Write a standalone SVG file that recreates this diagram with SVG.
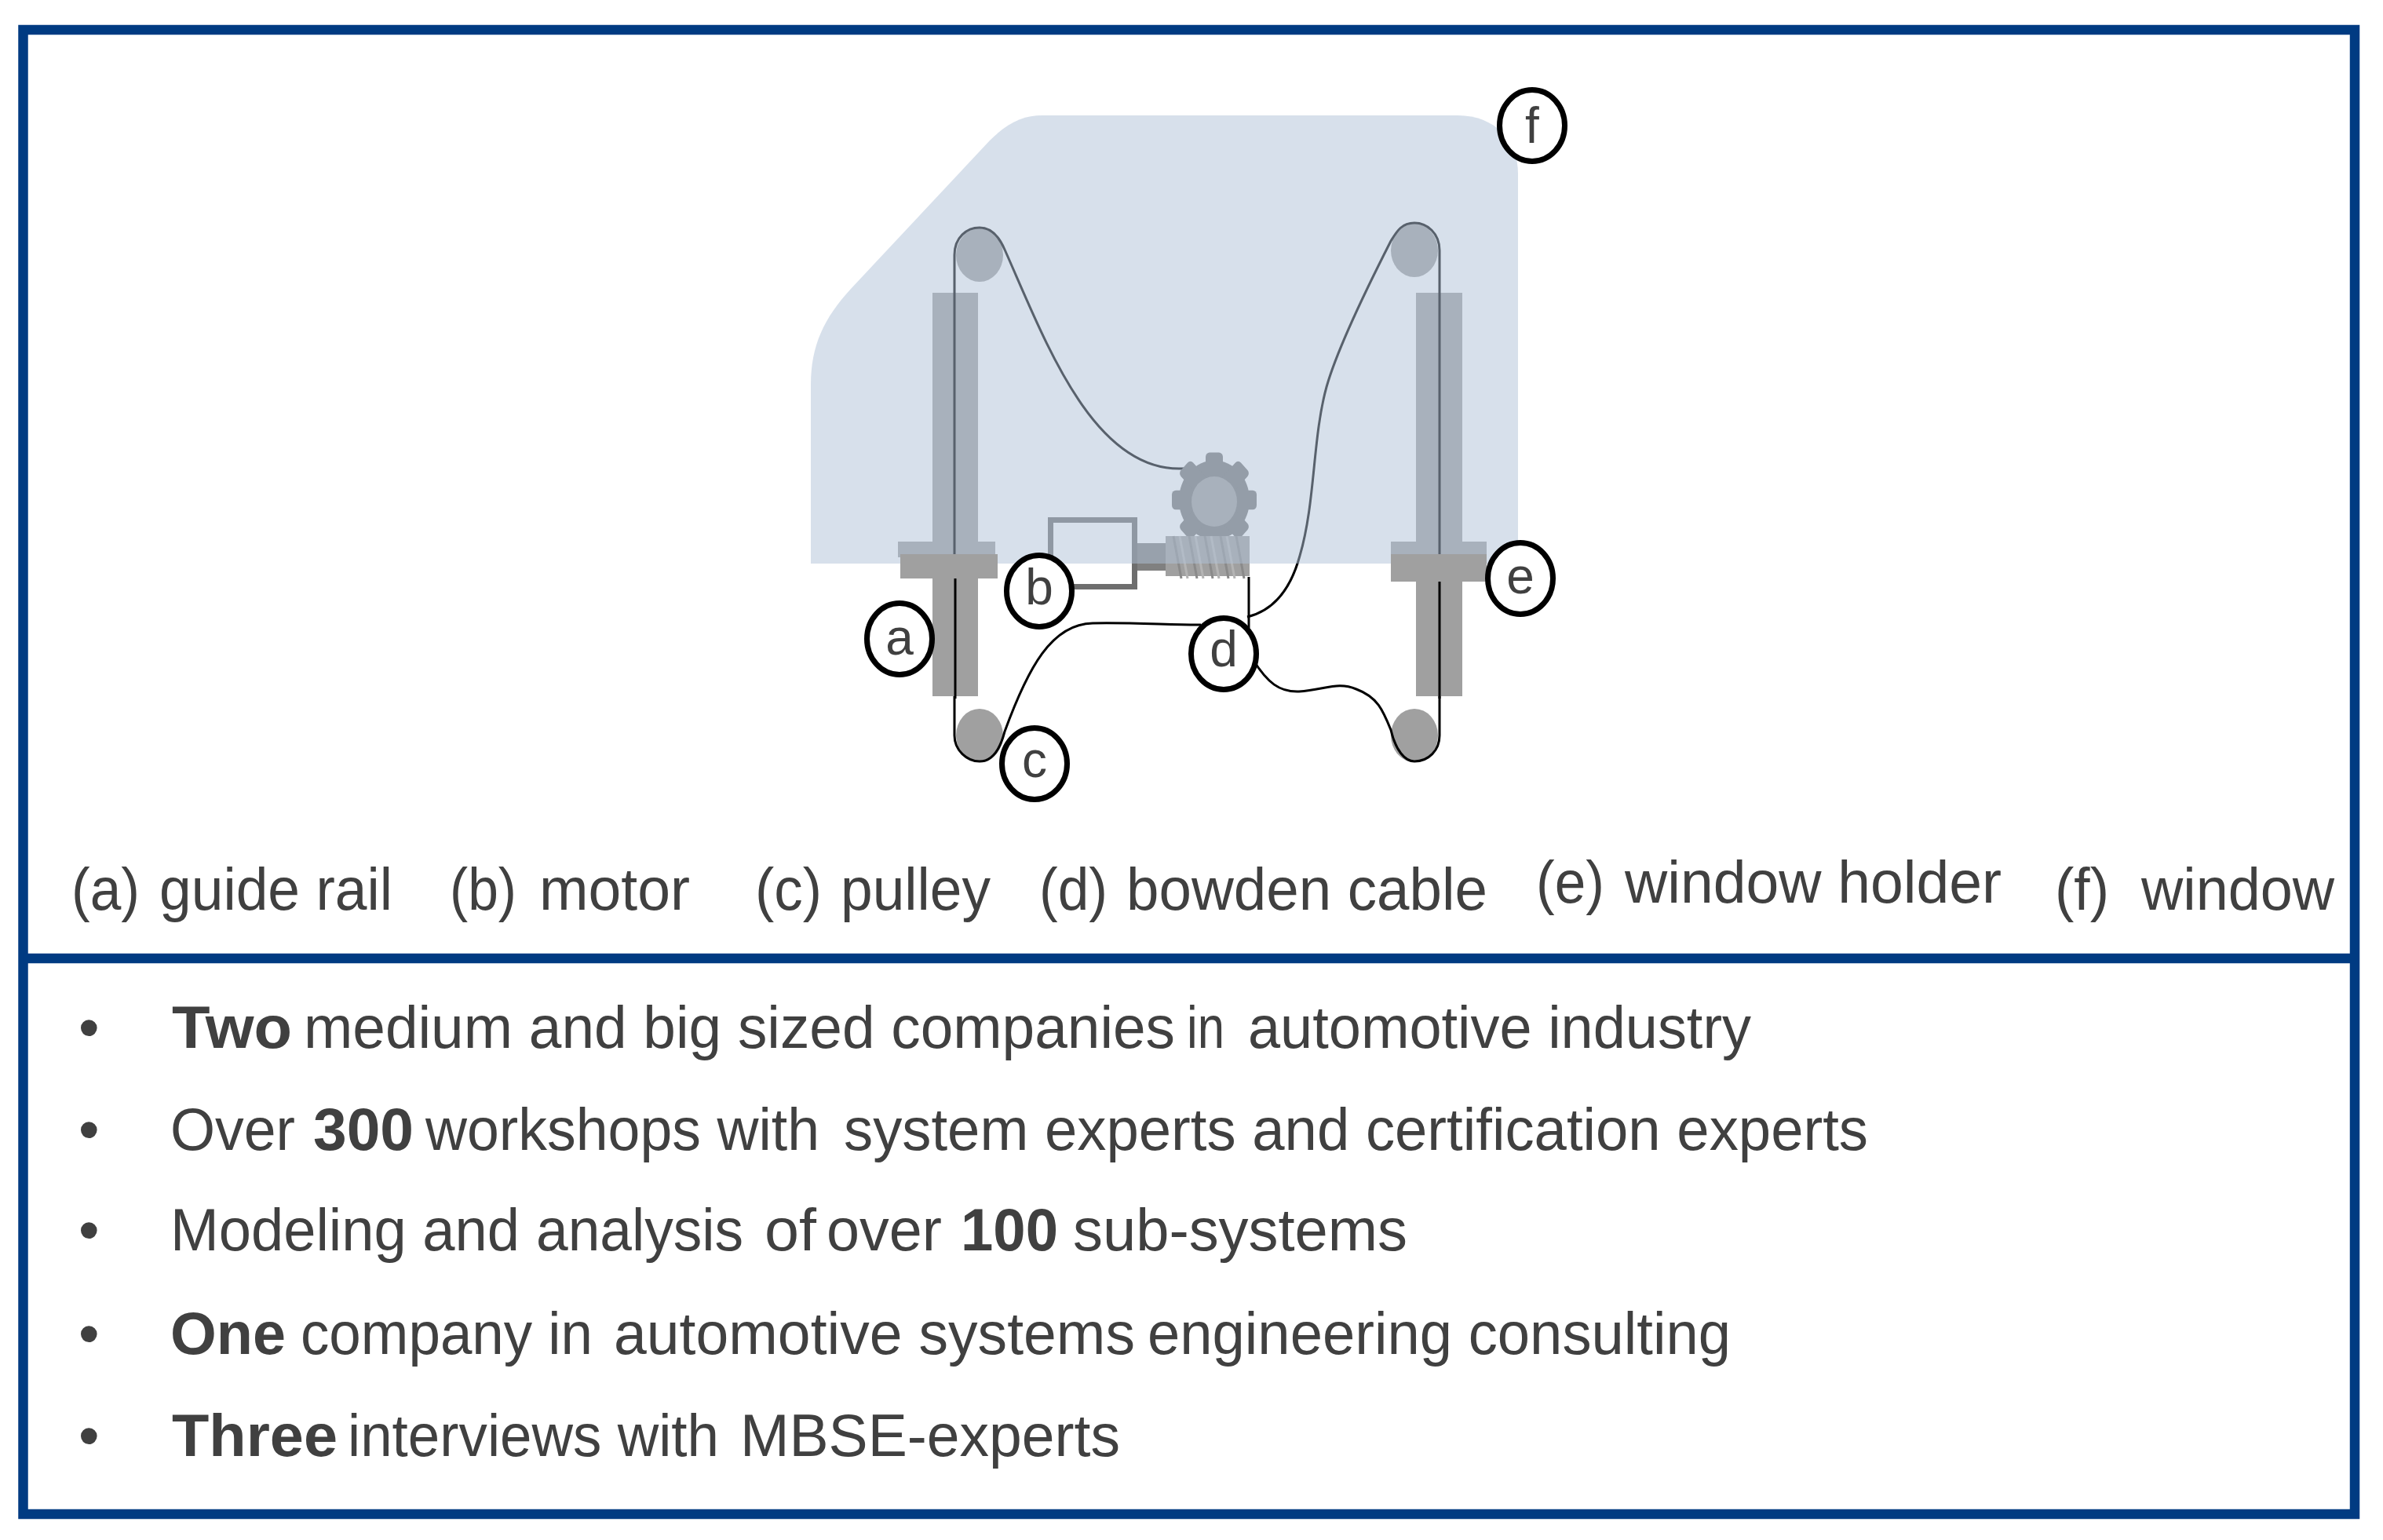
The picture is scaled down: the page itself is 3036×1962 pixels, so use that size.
<svg xmlns="http://www.w3.org/2000/svg" width="3036" height="1962" viewBox="0 0 3036 1962">
<style>
text{font-family:"Liberation Sans",Arial,sans-serif;fill:#404040;font-size:76px}
.b{font-weight:700}
.lab{font-size:64px;text-anchor:middle}
.ring{fill:#fff;stroke:#000;stroke-width:7}
.rail{fill:#a0a0a0}
.pul{fill:#a0a0a0}
.cable{fill:none;stroke:#000;stroke-width:3}
</style>
<rect width="3036" height="1962" fill="#fff"/>
<g id="mechanism-under-window">
<rect class="rail" x="1188" y="373" width="58" height="514"/>
<rect class="rail" x="1804" y="373" width="59" height="514"/>
<rect class="rail" x="1144" y="690" width="124" height="20"/>
<rect class="rail" x="1772" y="690" width="122" height="20"/>
<ellipse class="pul" cx="1248" cy="325" rx="30" ry="34"/>
<ellipse class="pul" cx="1802" cy="319" rx="30" ry="34"/>
<ellipse class="pul" cx="1248" cy="937" rx="30" ry="34"/>
<ellipse class="pul" cx="1802" cy="937" rx="30" ry="34"/>
</g>
<g id="connectors">
<path class="cable" d="M1216,937V325C1216,302 1232,290 1248,290C1264,290 1274,304 1280,318C1330,430 1390,597 1502,597H1520"/>
<path class="cable" d="M1834,937V319C1834,297 1818,284 1802,284C1786,284 1780,294 1772,307C1745,360 1705,440 1690,493C1672,558 1676,640 1656,708C1644,752 1622,778 1589,786"/>
<path class="cable" d="M1591,735V800"/>
<path class="cable" d="M1216,937C1216,956 1232,970 1248,970C1264,970 1274,955 1280,932C1310,850 1340,795 1392,794C1440,793 1490,796 1530,796"/>
<path class="cable" d="M1596,840C1615,870 1630,882 1655,881C1690,878 1705,868 1728,878C1755,888 1762,905 1772,930C1778,956 1790,970 1802,970C1820,970 1834,956 1834,937"/>
</g>
<g id="motor">
<rect x="1338.500" y="662.500" width="107" height="85" fill="none" stroke="#6e6e6e" stroke-width="7"/>
<rect x="1449" y="692" width="36" height="35" fill="#808080"/>
</g>
<g id="gear">
<g fill="#787878" transform="translate(1547 637) scale(1 1.12)">
<circle r="45"/>
<rect x="-11" y="-54" width="22" height="108" rx="5"/>
<rect x="-54" y="-11" width="108" height="22" rx="5"/>
<rect x="-11" y="-54" width="22" height="108" rx="5" transform="rotate(45)"/>
<rect x="-54" y="-11" width="108" height="22" rx="5" transform="rotate(45)"/>
</g>
<ellipse cx="1547" cy="639" rx="29" ry="32" fill="#a0a0a0"/>
</g>
<g id="worm">
<rect x="1485" y="683" width="107" height="51" fill="#a0a0a0"/>
<path d="M1495,683L1505,737M1515,683L1525,737M1535,683L1545,737M1555,683L1565,737M1575,683L1585,737" stroke="#8a8a8a" stroke-width="3" fill="none"/>
<path d="M1503,683L1513,737M1523,683L1533,737M1543,683L1553,737M1563,683L1573,737" stroke="#b4b4b4" stroke-width="3" fill="none"/>
</g>
<path id="window" d="M1033,718V490C1033,440 1050,405 1084,368L1261,179C1285,155 1305,147 1328,147H1857C1905,147 1934,180 1934,221V718Z" fill="#b0c2d8" fill-opacity=".5"/>
<g id="holders">
<rect class="rail" x="1147" y="706" width="124" height="31"/>
<rect class="rail" x="1772" y="706" width="122" height="35"/>
<rect class="rail" x="1188" y="737" width="58" height="150"/>
<rect class="rail" x="1804" y="741" width="59" height="146"/>
<path class="cable" d="M1217,737V890M1834,741V890"/>
</g>
<g id="node-a"><ellipse class="ring" cx="1146" cy="814" rx="41.500" ry="45.500"/><text class="lab" x="1146" y="834">a</text></g>
<g id="node-b"><ellipse class="ring" cx="1324" cy="753" rx="41.500" ry="45.500"/><text class="lab" x="1324" y="770">b</text></g>
<g id="node-c"><ellipse class="ring" cx="1318" cy="973" rx="41.500" ry="45.500"/><text class="lab" x="1318" y="990">c</text></g>
<g id="node-d"><ellipse class="ring" cx="1559" cy="833" rx="41.500" ry="45.500"/><text class="lab" x="1559" y="849">d</text></g>
<g id="node-e"><ellipse class="ring" cx="1937" cy="737" rx="41.500" ry="45.500"/><text class="lab" x="1937" y="756">e</text></g>
<g id="node-f"><ellipse class="ring" cx="1952" cy="160" rx="41.500" ry="45.500"/><text class="lab" x="1952" y="182">f</text></g>
<g id="frame" fill="none" stroke="#003b82" stroke-width="12.500">
<rect x="29.500" y="38" width="2970.500" height="1891"/>
<path d="M29.500,1221H3000"/>
</g>
<g id="captions">
<text y="1159"><tspan x="91" textLength="87" lengthAdjust="spacingAndGlyphs">(a)</tspan> <tspan x="203" textLength="297" lengthAdjust="spacingAndGlyphs">guide rail</tspan></text>
<text y="1159"><tspan x="573" textLength="85" lengthAdjust="spacingAndGlyphs">(b)</tspan> <tspan x="687" textLength="192" lengthAdjust="spacingAndGlyphs">motor</tspan></text>
<text y="1159"><tspan x="962" textLength="85" lengthAdjust="spacingAndGlyphs">(c)</tspan> <tspan x="1071" textLength="191" lengthAdjust="spacingAndGlyphs">pulley</tspan></text>
<text y="1159"><tspan x="1324" textLength="87" lengthAdjust="spacingAndGlyphs">(d)</tspan> <tspan x="1435" textLength="460" lengthAdjust="spacingAndGlyphs">bowden cable</tspan></text>
<text y="1150"><tspan x="1957" textLength="87" lengthAdjust="spacingAndGlyphs">(e)</tspan> <tspan x="2070" textLength="480" lengthAdjust="spacingAndGlyphs">window holder</tspan></text>
<text y="1159"><tspan x="2618" textLength="69" lengthAdjust="spacingAndGlyphs">(f)</tspan> <tspan x="2728" textLength="246" lengthAdjust="spacingAndGlyphs">window</tspan></text>
</g>
<g id="list">
<text x="100" y="1335">•</text><text x="100" y="1465">•</text><text x="100" y="1593">•</text><text x="100" y="1725">•</text><text x="100" y="1855">•</text>
<text y="1335"><tspan class="b" x="219" textLength="153" lengthAdjust="spacingAndGlyphs">Two</tspan> <tspan x="387" textLength="1110" lengthAdjust="spacingAndGlyphs">medium and big sized companies</tspan> <tspan x="1512" textLength="48" lengthAdjust="spacingAndGlyphs">in</tspan> <tspan x="1590" textLength="641" lengthAdjust="spacingAndGlyphs">automotive industry</tspan></text>
<text y="1465"><tspan x="217" textLength="159" lengthAdjust="spacingAndGlyphs">Over</tspan> <tspan class="b" x="399" textLength="128" lengthAdjust="spacingAndGlyphs">300</tspan> <tspan x="542" textLength="502" lengthAdjust="spacingAndGlyphs">workshops with</tspan> <tspan x="1075" textLength="1305" lengthAdjust="spacingAndGlyphs">system experts and certification experts</tspan></text>
<text y="1593"><tspan x="217" textLength="445" lengthAdjust="spacingAndGlyphs">Modeling and</tspan> <tspan x="683" textLength="264" lengthAdjust="spacingAndGlyphs">analysis</tspan> <tspan x="974" textLength="66" lengthAdjust="spacingAndGlyphs">of</tspan> <tspan x="1053" textLength="147" lengthAdjust="spacingAndGlyphs">over</tspan> <tspan class="b" x="1224" textLength="124" lengthAdjust="spacingAndGlyphs">100</tspan> <tspan x="1367" textLength="426" lengthAdjust="spacingAndGlyphs">sub-systems</tspan></text>
<text y="1725"><tspan class="b" x="217" textLength="147" lengthAdjust="spacingAndGlyphs">One</tspan> <tspan x="383" textLength="372" lengthAdjust="spacingAndGlyphs">company in</tspan> <tspan x="782" textLength="664" lengthAdjust="spacingAndGlyphs">automotive systems</tspan> <tspan x="1462" textLength="743" lengthAdjust="spacingAndGlyphs">engineering consulting</tspan></text>
<text y="1855"><tspan class="b" x="219" textLength="211" lengthAdjust="spacingAndGlyphs">Three</tspan> <tspan x="443" textLength="473" lengthAdjust="spacingAndGlyphs">interviews with</tspan> <tspan x="943" textLength="484" lengthAdjust="spacingAndGlyphs">MBSE-experts</tspan></text>
</g>
</svg>
